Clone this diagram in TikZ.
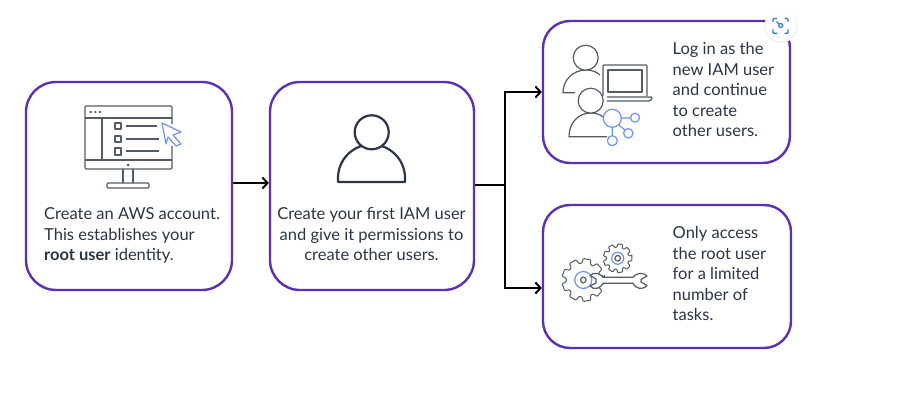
\documentclass[tikz,border=0pt]{standalone}
\usepackage{fontspec}
\setmainfont{Lato}
\usetikzlibrary{arrows.meta}
\definecolor{boxpurple}{HTML}{5A30B5}
\definecolor{ink}{HTML}{2B3544}
\definecolor{icongray}{HTML}{545B64}
\definecolor{iconblue}{HTML}{6C93F5}
\definecolor{badgeblue}{HTML}{2F74D0}
\tikzset{
  panel/.style={draw=boxpurple,line width=2.4pt,rounded corners=30pt,fill=white,inner sep=0pt},
  panelsmall/.style={panel,rounded corners=27pt},
  link/.style={draw=black,line width=2.4pt,-{Straight Barb[length=5pt,width=11pt,line width=2pt]}},
  linkplain/.style={draw=black,line width=2.4pt},
  caption/.style={inner sep=0pt,text=ink,font=\fontsize{16.5}{20.5}\selectfont},
  gr/.style={draw=icongray,line width=1.2pt,line join=round},
  bl/.style={draw=iconblue,line width=1.2pt,line join=round},
}
\newcommand{\gearicon}[5]{% cx cy rout rin teeth
  \draw[gr,fill=white,line width=1pt,rounded corners=0.8pt]
    ({#1+#3*cos(-10)},{#2+#3*sin(-10)})
    \foreach \k in {1,...,#5} {
      -- ({#1+#3*cos(360*(\k-1)/#5+10)},{#2+#3*sin(360*(\k-1)/#5+10)})
      -- ({#1+#4*cos(360*(\k-1)/#5+15)},{#2+#4*sin(360*(\k-1)/#5+15)})
      -- ({#1+#4*cos(360*\k/#5-15)},{#2+#4*sin(360*\k/#5-15)})
      -- ({#1+#3*cos(360*\k/#5-10)},{#2+#3*sin(360*\k/#5-10)})
    } -- cycle;
}
\begin{document}
\begin{tikzpicture}[x=1pt,y=-1pt]
\useasboundingbox (0,0) rectangle (908,417);
% panels
\node[panel,minimum width=206pt,minimum height=208pt] (b1) at (129,186) {};
\node[panel,minimum width=204pt,minimum height=208pt] (b2) at (372,186) {};
\node[panelsmall,minimum width=247pt,minimum height=142pt] (b3) at (666.5,92) {};
\node[panelsmall,minimum width=248pt,minimum height=143pt] (b4) at (667,276.5) {};
% connectors
\coordinate (junction) at (505,185);
\coordinate (into4) at (b4.west |- 0,288);
\coordinate (out2) at (b2.east |- 0,185);
\coordinate (in1) at (b1.east |- 0,183);
\coordinate (in2) at (b2.west |- 0,183);
\draw[link] (in1) -- (in2);
\draw[linkplain] (out2) -- (junction);
\draw[link] (junction) |- (b3.west);
\draw[link] (junction) |- (into4);
% monitor icon
\draw[gr,rounded corners=1pt] (172,124) -- (172,106) -- (85,106) -- (85,169) -- (172,169) -- (172,146);
\draw[gr] (85,118) -- (172,118) (85,160) -- (172,160) (102,118) -- (102,160);
\fill[icongray] (90.7,112) circle[radius=1.3] (95.3,112) circle[radius=1.3] (100,112) circle[radius=1.3] (128,165) circle[radius=1.5];
\draw[gr] (115,123) rectangle (121,129) (115,136) rectangle (121,142) (115,148) rectangle (121,155);
\draw[gr] (126,126) -- (157,126) (126,139) -- (159,139) (126,151) -- (159,151);
\draw[gr] (123,169) -- (123,183) (133,169) -- (133,183);
\draw[gr,rounded corners=1pt] (107,183) rectangle (149,188);
\draw[bl,fill=white] (162,123) -- (181,132) -- (173,135) -- (181,144) -- (176,146) -- (168,137) -- (166,144) -- cycle;
% single user icon
\draw[draw=ink,line width=2.2pt,line join=round] (338,182) -- (338,178) arc[start angle=180,end angle=360,radius=33.5] -- (405,182) -- cycle;
\draw[draw=ink,line width=2.2pt,fill=white] (371.7,132.3) circle[radius=17];
% users + laptop icon
\draw[gr] (575,92.7) -- (563,92.7) .. controls (563,80) and (573,70) .. (586,70) .. controls (592,70) and (597,72) .. (600,75);
\draw[gr,fill=white] (585.7,57.7) circle[radius=12.5];
\draw[gr,rounded corners=1pt] (603,96) -- (603,65) -- (647,65) -- (647,96);
\draw[gr] (608,70) rectangle (642,92);
\draw[gr,rounded corners=1pt] (607,97) -- (652,97) -- (652,99) -- (650,101) -- (607,101);
\draw[gr] (607,136.7) -- (569,136.7) .. controls (569,123) and (578,113) .. (591,113) .. controls (596,113) and (600,114.5) .. (603,117);
\draw[gr,fill=white] (590.7,100.7) circle[radius=12.5];
\draw[bl] (621.3,118) -- (630.5,118) (618.6,124.7) -- (625,130) (612.3,127.3) -- (612.3,135.7);
\draw[bl] (612.3,118.3) circle[radius=9] (635,117.7) circle[radius=4.5] (628.3,133.3) circle[radius=4.7] (612.3,140.7) circle[radius=5];
% gears + wrench icon
\gearicon{583.3}{280}{21.5}{17}{9}
\draw[bl] (583.3,280) circle[radius=8.5];
\draw[gr] (583.3,280) circle[radius=2.8];
\gearicon{617.7}{258.3}{14.5}{11}{9}
\draw[bl] (617.7,258.3) circle[radius=6];
\draw[gr] (617.7,258.3) circle[radius=2.8];
\draw[gr,fill=white] (603,277.3) -- (633,277.3) .. controls (635,274) and (642,271) .. (647,276) -- (641,279.5) -- (641,282) -- (647,285.5) .. controls (642,291) and (635,288) .. (633,283.3) -- (603,283.3) .. controls (601,288) and (594,291) .. (590,286) -- (596,283) -- (596,279) -- (590,275.5) .. controls (594,271) and (601,274) .. (603,277.3) -- cycle;
% expand badge
\fill[black!6] (780.7,26.5) circle[radius=16.5];
\fill[white] (780.7,25.7) circle[radius=15.5];
\draw[draw=badgeblue,line width=1.4pt,rounded corners=1pt]
  (773,22) -- (773,18.5) -- (777,18.5)
  (784.5,18.5) -- (788,18.5) -- (788,22)
  (788,29.5) -- (788,33.3) -- (784.5,33.3)
  (777,33.3) -- (773,33.3) -- (773,29.5);
\draw[draw=badgeblue,line width=1.2pt] (780.7,25.5) circle[radius=2] (779,24) -- (776.5,21.5);
% captions
\node[caption,anchor=west,align=left] (t1) at (44,235.5) {Create an AWS account.\\This establishes your\\\textbf{root user} identity.};
\node[caption,align=center] (t2) at (371.5,234) {Create your first IAM user\\and give it permissions to\\create other users.};
\node[caption,anchor=west,align=left] (t3) at (672.5,89.5) {Log in as the\\new IAM user\\and continue\\to create\\other users.};
\node[caption,anchor=west,align=left] (t4) at (672.5,273.5) {Only access\\the root user\\for a limited\\number of\\tasks.};
\end{tikzpicture}
\end{document}
